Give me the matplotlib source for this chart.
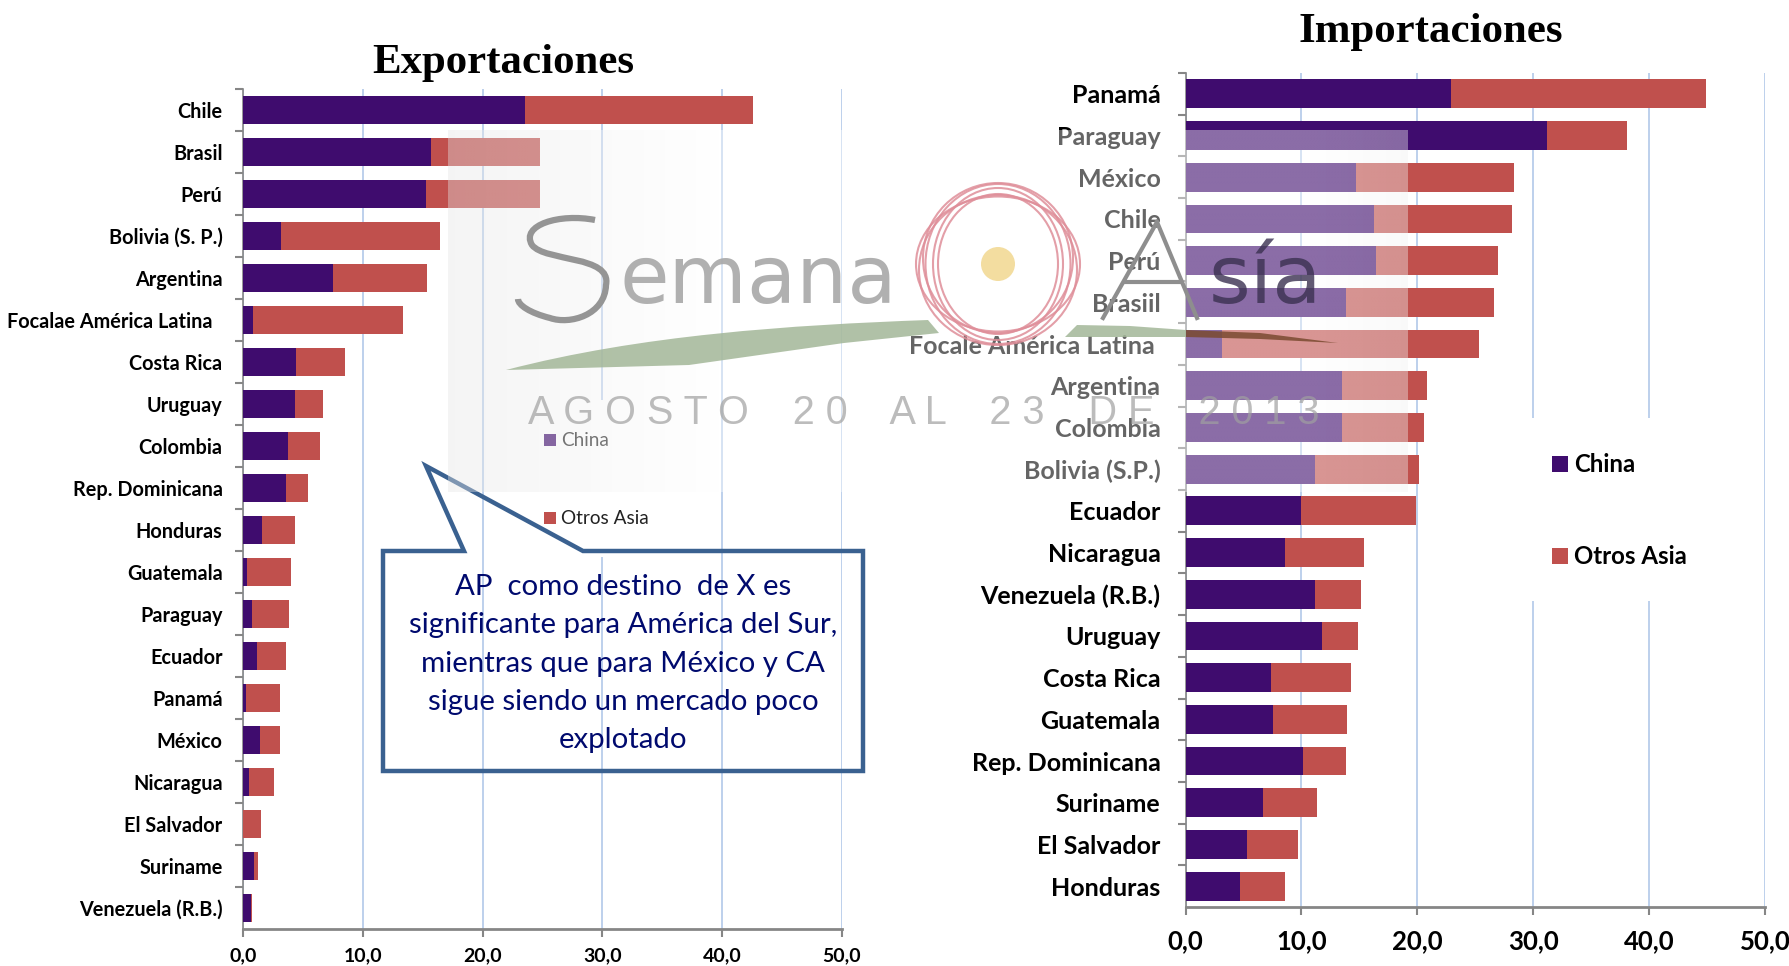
import numpy as np
import matplotlib
matplotlib.use("Agg")
import matplotlib.pyplot as plt
from matplotlib.patches import Polygon, Rectangle, Ellipse, PathPatch
from matplotlib.path import Path

W, H = 1789, 966

exp_countries = ["Chile", "Brasil", "Perú", "Bolivia (S. P.)", "Argentina", "Focalae América Latina  ",
                 "Costa Rica", "Uruguay", "Colombia", "Rep. Dominicana", "Honduras", "Guatemala",
                 "Paraguay", "Ecuador", "Panamá", "México", "Nicaragua", "El Salvador", "Suriname",
                 "Venezuela (R.B.)"]
exp_china = [23.56, 15.7, 15.26, 3.17, 7.49, 0.82, 4.41, 4.32, 3.74, 3.55, 1.54, 0.29, 0.72, 1.15, 0.24,
             1.39, 0.48, 0.0, 0.86, 0.67]
exp_otros = [19.04, 9.1, 9.54, 13.29, 7.87, 12.52, 4.08, 2.35, 2.69, 1.87, 2.78, 3.69, 3.12, 2.4, 2.83,
             1.68, 2.06, 1.49, 0.34, 0.05]

imp_countries = ["Panamá", "Paraguay", "México", "Chile", "Perú", "Brasiil", "Focale América Latina ",
                 "Argentina", "Colombia", "Bolivia (S.P.)", "Ecuador", "Nicaragua", "Venezuela (R.B.)",
                 "Uruguay", "Costa Rica", "Guatemala", "Rep. Dominicana", "Suriname", "El Salvador",
                 "Honduras"]
imp_china = [22.9, 31.2, 14.67, 16.3, 16.4, 13.87, 3.17, 13.53, 13.48, 11.15, 10.0, 8.57, 11.15, 11.8,
             7.38, 7.53, 10.16, 6.69, 5.3, 4.66]
imp_otros = [22.0, 6.9, 13.63, 11.85, 10.6, 12.73, 22.13, 7.27, 7.08, 8.95, 9.9, 6.79, 3.95, 3.07,
             6.92, 6.44, 3.71, 4.61, 4.36, 3.96]

x_ticks = [0, 10, 20, 30, 40, 50]
x_ticklabels = ["0,0", "10,0", "20,0", "30,0", "40,0", "50,0"]
series_names = ["China", "Otros Asia"]

PURPLE = "#3f0c6e"
RED = "#c0504d"
GRID = "#bdd0ec"
AXIS = "#868686"
SANS = "Lato"


def axes_px(fig, l, t, r, b):
    return fig.add_axes([l / W, 1 - b / H, (r - l) / W, (b - t) / H])


def panel(ax, names, china, otros, lab_fs, tick_fs, lab_pad, tick_pad):
    y = np.arange(len(names))
    ax.barh(y, china, height=0.69, color=PURPLE, zorder=3)
    ax.barh(y, otros, left=china, height=0.69, color=RED, zorder=3)
    ax.set_xlim(0, 50)
    ax.set_ylim(len(names) - 0.5, -0.5)
    ax.set_xticks(x_ticks, x_ticklabels)
    ax.set_yticks(y - 0.5)
    ax.set_yticklabels([])
    ax.set_yticks(y, names, minor=True)
    ax.tick_params(axis="y", which="major", length=6, width=1.5, color=AXIS)
    ax.tick_params(axis="y", which="minor", length=0, pad=lab_pad, labelsize=lab_fs)
    ax.tick_params(axis="x", length=6, width=1.5, color=AXIS, pad=tick_pad, labelsize=tick_fs)
    for t in ax.get_yticklabels(minor=True) + ax.get_xticklabels():
        t.set_fontfamily(SANS)
        t.set_fontweight("bold")
    ax.grid(axis="x", color=GRID, lw=1.4, zorder=0)
    ax.set_axisbelow(True)
    for s in ("top", "right"):
        ax.spines[s].set_visible(False)
    ax.spines["left"].set_color(AXIS)
    ax.spines["left"].set_linewidth(1.2)
    ax.spines["bottom"].set_color(AXIS)
    ax.spines["bottom"].set_linewidth(2)


fig = plt.figure(figsize=(W / 100, H / 100), dpi=100, facecolor="white")

ax1 = axes_px(fig, 243.4, 89, 841.5, 929)
panel(ax1, exp_countries, exp_china, exp_otros, 14.3, 14, 15, 7)
ax2 = axes_px(fig, 1185.6, 73, 1765, 907)
panel(ax2, imp_countries, imp_china, imp_otros, 18, 18.5, 18, 10)

# full-figure overlay in pixel coordinates
ov = fig.add_axes([0, 0, 1, 1], facecolor="none", zorder=5)
ov.set_xlim(0, W)
ov.set_ylim(H, 0)
ov.axis("off")

# gaps in gridlines behind the legends
ov.add_patch(Rectangle((1500, 418), 200, 183, fc="white", ec="none", zorder=1))
ov.add_patch(Rectangle((596, 400), 12, 157, fc="white", ec="none", zorder=1))
for name, yy, col in zip(series_names, (464, 556), (PURPLE, RED)):
    ov.add_patch(Rectangle((1552, yy - 8), 16, 16, fc=col, ec="none", zorder=2))
    ov.text(1574, yy, name, fontsize=17.3, fontweight="bold", family=SANS, va="center", zorder=2)
for name, yy, col in zip(series_names, (440, 518), (PURPLE, RED)):
    ov.add_patch(Rectangle((544, yy - 6), 12, 12, fc=col, ec="none", zorder=2))
    ov.text(561, yy, name, fontsize=13.7, family=SANS, color="#222222", va="center", zorder=2)

ov.text(503, 63.5, "Exportaciones", family="Liberation Serif", fontweight="bold", fontsize=30.9,
        ha="center", va="center", zorder=2)
ov.text(1431, 32, "Importaciones", family="Liberation Serif", fontweight="bold", fontsize=30.9,
        ha="center", va="center", zorder=2)

# callout
verts = [(383, 551), (464, 551), (426, 466), (583, 551), (863, 551), (863, 771), (383, 771)]
ov.add_patch(Polygon(verts, closed=True, fc="none", ec="#3a6190", lw=3.2, joinstyle="miter", zorder=2))
call = ["AP  como destino  de X es", "significante para América del Sur,",
        "mientras que para México y CA", "sigue siendo un mercado poco", "explotado"]
for line, yy in zip(call, (587, 625, 664, 702, 740)):
    ov.text(623, yy, line, fontsize=21.2, family=SANS, color="#000a6e", ha="center", va="center", zorder=2)

# watermark panel
rx0, rx1, ry0, ry1 = 448, 1408, 130, 492
ny, nx = 120, 320
yy_, xx_ = np.mgrid[0:1:ny * 1j, 0:1:nx * 1j]
left = np.clip(1 - xx_ / 0.28, 0, 1)
right = np.clip((xx_ - 0.9) / 0.1, 0, 1) * 0.5
gray = 1 - 0.10 * np.maximum(left, right)
rgba = np.dstack([gray, gray, gray, np.full_like(gray, 0.40)])
ov.imshow(rgba, extent=(rx0, rx1, ry1, ry0), aspect="auto", zorder=3, interpolation="bilinear")
ov.set_xlim(0, W)
ov.set_ylim(H, 0)

# swoosh, left and right of the rings
sw1 = Path([(506, 370), (640, 335), (790, 325), (928, 320), (939, 333), (844, 343), (689, 365), (506, 370)],
           [Path.MOVETO, Path.CURVE4, Path.CURVE4, Path.CURVE4, Path.LINETO, Path.LINETO, Path.LINETO, Path.CLOSEPOLY])
ov.add_patch(PathPatch(sw1, fc="#a3b798", ec="none", alpha=0.85, zorder=4))
ov.add_patch(Polygon([(1077, 325), (1130, 326), (1186, 330), (1186, 337), (1130, 337), (1065, 337)],
                     closed=True, fc="#a3b798", ec="none", alpha=0.85, zorder=4))
ov.add_patch(Polygon([(1186, 330), (1260, 333), (1338, 343), (1260, 339), (1186, 337)],
                     closed=True, fc="#7a4a30", ec="none", alpha=0.85, zorder=4))

# logo rings
rings = [(164, 135, 0), (158, 150, 6), (150, 150, -6), (130, 152, 0), (145, 160, 0), (120, 140, 0)]
for w_, h_, dy in rings:
    ov.add_patch(Ellipse((998, 264 + dy), w_, h_, fc="none", ec="#df8e99", lw=1.5, alpha=0.85, zorder=4))
ov.add_patch(Ellipse((998, 264), 34, 34, fc="#f3dda0", ec="none", zorder=4))

# watermark lettering
s_path = Path([(595, 220), (560, 213), (520, 225), (532, 245), (545, 262), (612, 255), (606, 285),
               (605, 315), (570, 325), (550, 318), (530, 313), (518, 305), (518, 299)],
              [Path.MOVETO] + [Path.CURVE4] * 12)
ov.add_patch(PathPatch(s_path, fc="none", ec="#959595", lw=4.5, zorder=4))
ov.text(620, 303, "emana", fontsize=58, family="DejaVu Sans", color="#a8a8a8", alpha=0.9, zorder=4, va="baseline")
ov.plot([1157, 1103], [222, 318], color="#8e8e8e", lw=3, zorder=4)
ov.plot([1157, 1197], [222, 318], color="#8e8e8e", lw=3, zorder=4)
ov.plot([1125, 1180], [282, 282], color="#8e8e8e", lw=3, zorder=4)
ov.text(1209, 303, "sía", fontsize=58, family="DejaVu Sans", color="#3a3050", alpha=0.8, zorder=4, va="baseline")
ov.text(924, 413, "A G O S T O    2 0    A L    2 3    D E    2 0 1 3", fontsize=28.5,
        family="Liberation Sans", color="#a0a0a0", alpha=0.7, ha="center", va="center", zorder=4)

fig.savefig("out.png", dpi=100)
